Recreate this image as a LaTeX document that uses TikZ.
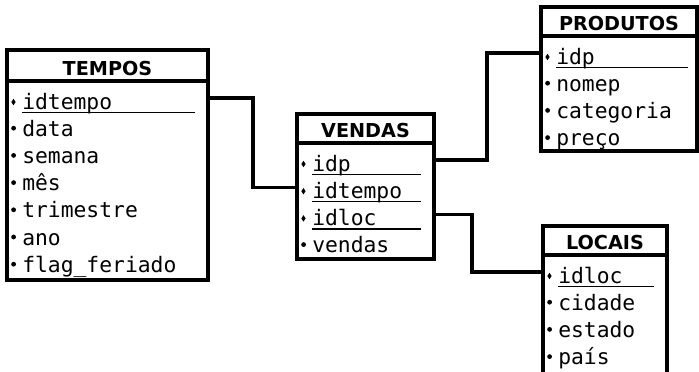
\documentclass[tikz,border=0pt]{standalone}
\usepackage{fontspec}
\setmainfont{DejaVu Sans}
\setmonofont{DejaVu Sans Mono}
\usetikzlibrary{positioning}

% name, title, left, top, title line, right, bottom, fields, key underline
\newcommand{\entity}[9]{%
  \coordinate (#1-nw) at (#3,#4);
  \coordinate (#1-ne) at (#6,#4);
  \draw[box] (#1-nw) rectangle (#6,#7) (#3,#5) -- (#6,#5);
  \node[title] (#1) at ({(#3+#6)/2},#5-6) {#2};
  \foreach \f/\k [count=\i] in {#8}{
    \node[field] (#1-\i) at (#3+15,{#5+28+27.2*(\i-1)}) {\f};
    \ifnum\k=1
      \fill ([xshift=-8pt,yshift=5.25pt]#1-\i.base west) -- ++(1.6pt,2.4pt) -- ++(1.6pt,-2.4pt) -- ++(-1.6pt,-2.4pt) -- cycle;
      \draw[keyline] ([yshift=-2.5pt]#1-\i.base west) -- ++(#9,0);
    \else
      \fill ([xshift=-6.3pt,yshift=6pt]#1-\i.base west) circle (1.8pt);
    \fi
  }
}

\begin{document}
\begin{tikzpicture}[x=0.75pt, y=-0.75pt,
  box/.style={draw, line width=2.4pt},
  title/.style={font=\bfseries\fontsize{14.4}{14.4}\selectfont, anchor=base, inner sep=0pt},
  field/.style={font=\ttfamily\fontsize{16}{16}\selectfont, anchor=base west, inner sep=0pt, text height=16.5pt, text depth=0pt},
  keyline/.style={line width=1.2pt},
  link/.style={line width=2.4pt}]
  \useasboundingbox (0,0) rectangle (699,371);
  \clip (0,0) rectangle (699,371);

  \entity{tempos}{TEMPOS}{7}{50}{81}{208}{280}{idtempo/1, data/0, semana/0, mês/0, trimestre/0, ano/0, flag\_feriado/0}{173}
  \entity{vendas}{VENDAS}{297}{114}{143}{434}{259}{idp/1, idtempo/1, idloc/1, vendas/0}{109}
  \entity{produtos}{PRODUTOS}{541}{7}{36}{697}{151}{idp/1, nomep/0, categoria/0, preço/0}{132}
  \entity{locais}{LOCAIS}{543}{226}{255}{667}{385}{idloc/1, cidade/0, estado/0, país/0}{96}

  \draw[link] (tempos-ne |- tempos-1) -- ++(45,0) |- (vendas-nw |- vendas-2);
  \draw[link] (vendas-ne |- vendas-1) -- ++(53,0) |- (produtos-nw |- produtos-1);
  \draw[link] (vendas-ne |- vendas-3) -- ++(38,0) |- (locais-nw |- locais-1);
\end{tikzpicture}
\end{document}
